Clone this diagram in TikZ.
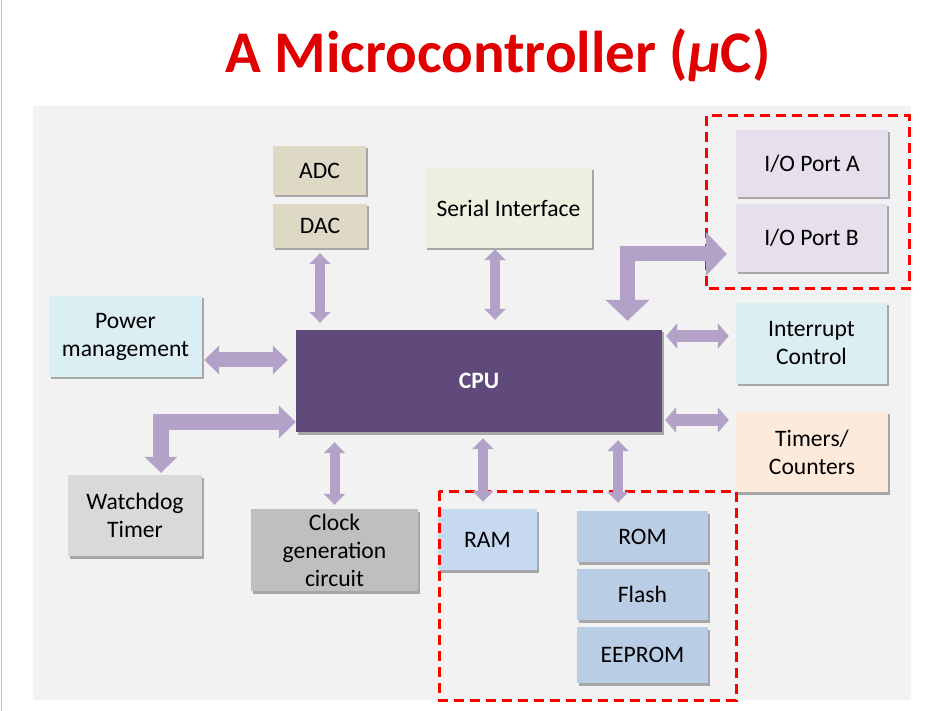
\documentclass[tikz,border=0pt]{standalone}
\usepackage{fontspec}
\setmainfont{Carlito}
\usetikzlibrary{arrows.meta,shadows,calc}
\definecolor{panel}{RGB}{242,242,242}
\definecolor{arrowc}{RGB}{179,162,199}
\definecolor{cpuc}{RGB}{96,74,123}
\definecolor{adcc}{RGB}{221,217,196}
\definecolor{serc}{RGB}{235,241,222}
\definecolor{ioc}{RGB}{230,224,236}
\definecolor{bluec}{RGB}{218,238,243}
\definecolor{timc}{RGB}{253,234,218}
\definecolor{wdc}{RGB}{217,217,217}
\definecolor{clkc}{RGB}{191,191,191}
\definecolor{ramc}{RGB}{198,217,241}
\definecolor{romc}{RGB}{185,205,229}
\definecolor{titlered}{RGB}{224,0,0}
\begin{document}
\begin{tikzpicture}[x=1pt,y=-1pt,
  blk/.style={inner sep=0pt, align=center, font=\fontsize{23.6}{28}\selectfont,
    drop shadow={shadow xshift=1.5pt, shadow yshift=-2.5pt, opacity=.45, fill=black!70}},
  fatS/.style={draw=arrowc, line width=10pt,
    arrows={Triangle[width=21pt,length=11pt]-Triangle[width=21pt,length=11pt]}},
  fatM/.style={draw=arrowc, line width=12pt,
    arrows={Triangle[width=25pt,length=11pt]-Triangle[width=25pt,length=11pt]}},
  fatL/.style={draw=arrowc, line width=15pt,
    arrows={Triangle[width=28pt,length=15pt]-Triangle[width=28pt,length=15pt]}},
  bentA/.style={draw=arrowc, line width=15pt, line join=miter,
    arrows={Triangle[width=43pt,length=21pt]-Triangle[width=43pt,length=21pt]}},
  bentB/.style={draw=arrowc, line width=16pt, line join=miter,
    arrows={Triangle[width=32pt,length=16pt]-Triangle[width=32pt,length=17pt]}},
  reddash/.style={draw=red, line width=3pt, dash pattern=on 10pt off 6pt}]
\useasboundingbox (0,0) rectangle (943,711);
\fill[white] (0,0) rectangle (943,711);
\draw[black!25, line width=1pt] (1,0) -- (1,711);
\fill[panel] (33,106) rectangle (911,700);
\node[anchor=base, text=titlered, font=\fontsize{59}{62}\selectfont\bfseries] (title) at (498,73) {A Microcontroller (\textit{μ}C)};
% boxes
\node[blk, fill=adcc, minimum width=93pt, minimum height=49pt] (adc) at (319.5,170.5) {ADC};
\node[blk, fill=adcc, minimum width=94pt, minimum height=44pt] (dac) at (320,226) {DAC};
\node[blk, fill=serc, minimum width=167pt, minimum height=80pt] (ser) at (508.5,208) {Serial Interface};
\node[blk, fill=ioc, minimum width=152pt, minimum height=67pt] (ioa) at (812,163.5) {I/O Port A};
\node[blk, fill=ioc, minimum width=151pt, minimum height=68pt] (iob) at (811.5,238) {I/O Port B};
\node[blk, fill=bluec, minimum width=153pt, minimum height=81pt] (pow) at (125.5,336.5) {Power\\management};
\node[blk, fill=cpuc, minimum width=366pt, minimum height=102pt, text=white, font=\fontsize{23.5}{27}\selectfont\bfseries] (cpu) at (479,381) {CPU};
\node[blk, fill=bluec, minimum width=151pt, minimum height=81pt] (irq) at (811.5,343.5) {Interrupt\\Control};
\node[blk, fill=timc, minimum width=152pt, minimum height=80pt] (tim) at (812,452) {Timers/\\Counters};
\node[blk, fill=wdc, minimum width=134pt, minimum height=81pt] (wd) at (135,515.5) {Watchdog\\Timer};
\node[blk, fill=clkc, minimum width=167pt, minimum height=82pt] (clk) at (334.5,550) {Clock\\generation\\circuit};
\node[blk, fill=ramc, minimum width=99pt, minimum height=61pt] (ram) at (487.5,539.5) {RAM};
\node[blk, fill=romc, minimum width=131pt, minimum height=51pt] (rom) at (642.5,536.5) {ROM};
\node[blk, fill=romc, minimum width=131pt, minimum height=51pt] (fla) at (642.5,594.5) {Flash};
\node[blk, fill=romc, minimum width=131pt, minimum height=56pt] (eep) at (642.5,655) {EEPROM};
% dashed groups
\draw[reddash] (706,116) rectangle (909,289);
\draw[reddash] (439,491) rectangle (736,700);
% connectors
\draw[fatS, shorten <=5pt, shorten >=7pt] (dac.south) -- (dac.south |- cpu.north);
\draw[fatS, shorten <=1pt, shorten >=10pt] ([xshift=-13.5pt]ser.south) -- ([xshift=-13.5pt]ser.south |- cpu.north);
\draw[fatL, shorten <=2pt, shorten >=8pt] ([yshift=-23.5pt]pow.east) -- ([yshift=-23.5pt]pow.east -| cpu.west);
\draw[fatM, shorten <=4pt, shorten >=7pt] ([yshift=7.5pt]irq.west -| cpu.east) -- ([yshift=7.5pt]irq.west);
\draw[fatM, shorten <=3pt, shorten >=7pt] ([yshift=32pt]tim.west -| cpu.east) -- ([yshift=32pt]tim.west);
\draw[fatS, shorten <=10pt, shorten >=4pt] (cpu.south -| clk.north) -- (clk.north);
\draw[fatS, shorten <=6pt, shorten >=7pt] ([xshift=-4.5pt]ram.north |- cpu.south) -- ([xshift=-4.5pt]ram.north);
\draw[fatS, shorten <=8pt, shorten >=8pt] ([xshift=-24.5pt]rom.north |- cpu.south) -- ([xshift=-24.5pt]rom.north);
\draw[bentA, shorten <=9pt, shorten >=9pt] ([xshift=148.5pt]cpu.north) |- ([yshift=-16pt]iob.west);
\draw[bentB, shorten <=2pt] ([xshift=26pt]wd.north) |- ([yshift=-41pt]cpu.west);
\end{tikzpicture}
\end{document}
